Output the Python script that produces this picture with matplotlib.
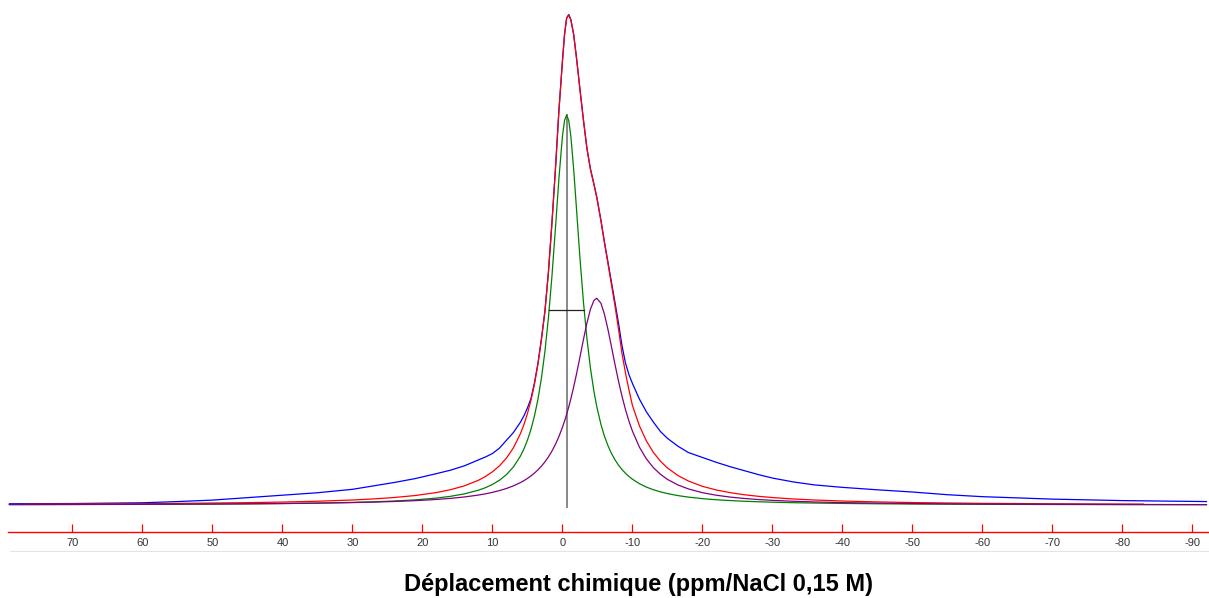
import matplotlib
matplotlib.use("Agg")
import matplotlib.pyplot as plt

plt.rcParams['font.family'] = ['Liberation Sans', 'DejaVu Sans']

# chemical shift grid (ppm) (peak = 100)
ppm = [79, 70, 60, 55, 50, 45, 40, 35, 30, 27, 24, 21, 18, 16, 14, 12, 11, 10, 9, 8,
       7, 6, 5.5, 5, 4.5, 4, 3.5, 3, 2.5, 2, 1.5, 1, 0.5, 0, -0.3, -0.6, -0.9, -1.2,
       -1.6, -2, -2.5, -3, -3.5, -4, -4.5, -4.9, -5.5, -6, -6.5, -7, -7.5, -8, -8.5,
       -9, -9.5, -10, -11, -12, -13, -14, -15, -16.5, -18, -20, -22, -24, -26, -28,
       -30, -33, -36, -40, -45, -50, -55, -60, -70, -80, -92]

# experimental spectrum
blue = [0.25, 0.3, 0.45, 0.7, 1.0, 1.5, 2.0, 2.5, 3.2, 3.9, 4.6, 5.4, 6.4, 7.1, 8.0,
        9.2, 9.8, 10.5, 11.6, 13.2, 14.8, 16.9, 18.2, 19.8, 21.7, 24.9, 28.9, 33.9,
        39.6, 47.6, 57.6, 68.6, 80.6, 90.6, 96.1, 99.4, 100.1, 99.1, 96.1, 91.4, 84.9,
        78.6, 72.8, 68.6, 65.5, 62.9, 58.1, 53.7, 49.6, 45.5, 41.4, 37.2, 32.6, 29.0,
        26.6, 24.8, 21.6, 19.0, 16.9, 15.0, 13.6, 12.0, 10.7, 9.7, 8.7, 7.8, 7.0, 6.2,
        5.5, 4.7, 4.1, 3.6, 3.1, 2.65, 2.1, 1.7, 1.2, 0.9, 0.7]

# fitted sum (shorter range than the spectrum)
red_ppm = [77] + ppm[1:-1] + [-83]
red = [0.17, 0.21, 0.28, 0.33, 0.40, 0.48, 0.60, 0.77, 1.02, 1.24, 1.53, 1.94, 2.54,
       3.12, 3.91, 5.05, 5.81, 6.77, 7.99, 9.57, 11.68, 14.56, 16.42, 18.65, 21.35,
       24.66, 28.74, 33.8, 39.5, 47.5, 57.5, 68.5, 80.5, 90.5, 96.0, 99.3, 100.0, 99.0,
       96.0, 91.3, 84.8, 78.5, 72.7, 68.5, 65.4, 62.8, 58.0, 53.5, 49.3, 45.0, 40.7,
       36.0, 31.0, 27.0, 23.5, 20.3, 16.15, 13.05, 10.72, 8.94, 7.56, 6.01, 4.89, 3.81,
       3.06, 2.51, 2.09, 1.77, 1.52, 1.23, 1.02, 0.81, 0.63, 0.50, 0.41, 0.34, 0.25,
       0.19, 0.18]

# component 1 (green)
green = [0.08, 0.10, 0.14, 0.16, 0.19, 0.24, 0.30, 0.39, 0.53, 0.65, 0.81, 1.05, 1.41,
         1.77, 2.27, 3.02, 3.53, 4.19, 5.05, 6.20, 7.77, 9.99, 11.45, 13.23, 15.42,
         18.15, 21.57, 25.9, 31.36, 38.23, 46.67, 56.47, 66.69, 75.26, 78.47, 79.6,
         78.47, 75.26, 68.62, 60.6, 50.46, 41.43, 33.94, 27.93, 23.18, 20.11, 16.44,
         14.05, 12.12, 10.54, 9.24, 8.15, 7.25, 6.48, 5.82, 5.26, 4.35, 3.65, 3.11, 2.68,
         2.33, 1.92, 1.61, 1.30, 1.07, 0.90, 0.76, 0.66, 0.57, 0.47, 0.40, 0.32, 0.25,
         0.20, 0.17, 0.14, 0.10, 0.08, 0.06]

# component 2 (purple)
purple = [0.09, 0.11, 0.14, 0.17, 0.20, 0.24, 0.30, 0.38, 0.49, 0.59, 0.72, 0.89, 1.13,
          1.35, 1.64, 2.03, 2.28, 2.58, 2.94, 3.37, 3.91, 4.57, 4.97, 5.42, 5.93, 6.51,
          7.17, 7.93, 8.81, 9.82, 11.0, 12.37, 13.98, 15.85, 17.12, 18.51, 20.02, 21.66,
          24.06, 26.67, 30.17, 33.76, 37.16, 39.96, 41.74, 42.2, 41.17, 38.94, 35.84,
          32.33, 28.74, 25.34, 22.24, 19.5, 17.12, 15.07, 11.80, 9.40, 7.61, 6.27, 5.23,
          4.09, 3.28, 2.51, 1.99, 1.61, 1.33, 1.11, 0.95, 0.76, 0.62, 0.49, 0.38, 0.30,
          0.24, 0.20, 0.14, 0.11, 0.08]

# green peak marker: position and width at half height
g_center = -0.6
g_top = 79.6
g_fwhm = (1.9, -3.1)

xticks = [70, 60, 50, 40, 30, 20, 10, 0, -10, -20, -30, -40, -50, -60, -70, -80, -90]

fig = plt.figure(figsize=(12.09, 5.98), dpi=100)
ax = fig.add_axes([8 / 1209, 66 / 598, 1201 / 1209, 532 / 598])

ax.plot(ppm, blue, color='#0000ff', lw=0.9)
ax.plot(red_ppm, red, color='#ff0000', lw=0.9)
ax.plot(ppm, green, color='#008000', lw=0.9)
ax.plot(ppm, purple, color='#800080', lw=0.9)

ax.plot([g_center, g_center], [-0.4, g_top], color='#888888', lw=1.4, zorder=1)
ax.plot(list(g_fwhm), [g_top / 2, g_top / 2], color='#222222', lw=0.9)

ax.set_xlim(79.2, -92.36)
ax.set_ylim(-5.51, 103.06)

for s in ['left', 'right', 'top']:
    ax.spines[s].set_visible(False)
ax.spines['bottom'].set_color('#ff0000')
ax.spines['bottom'].set_linewidth(1.0)
ax.set_yticks([])
ax.set_xticks(xticks)
ax.set_xticklabels([str(t) for t in xticks])
ax.tick_params(axis='x', direction='in', length=5.5, width=0.9, color='#ff0000',
               labelsize=8, labelcolor='#333333', pad=4.5)

# faint line under the scale
fig.add_artist(plt.Line2D([10 / 1209, 1.0], [1 - 551 / 598, 1 - 551 / 598],
                          color='#e4e4e4', lw=0.8))

fig.text(639 / 1209, 1 - 584 / 598, 'Déplacement chimique (ppm/NaCl 0,15 M)',
         ha='center', va='center', fontsize=17, fontweight='bold', color='#000000')

fig.savefig('out.png', dpi=100)
